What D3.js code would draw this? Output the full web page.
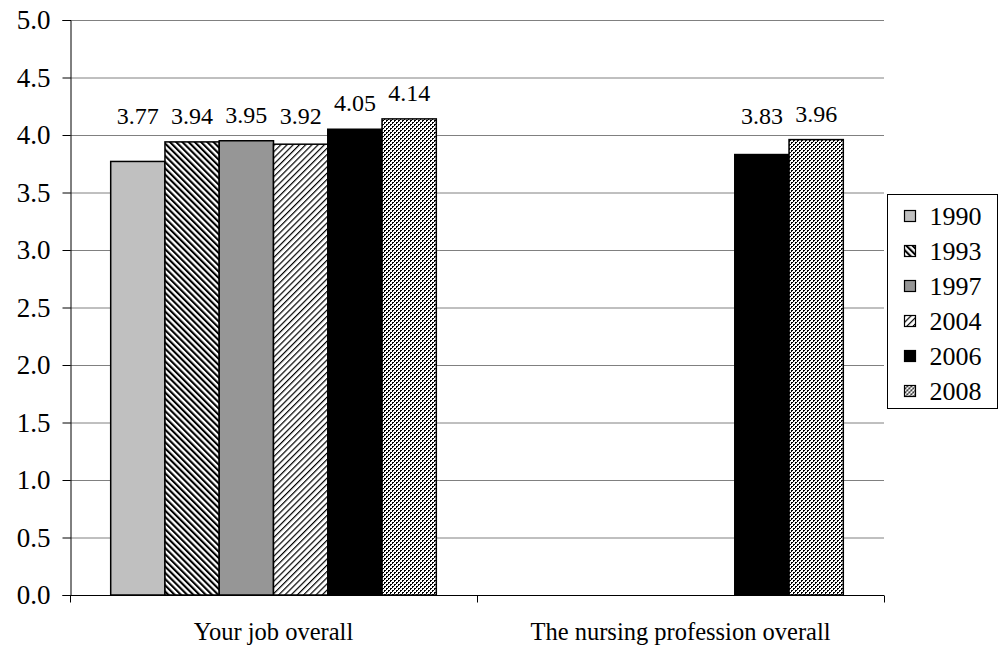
<!DOCTYPE html>
<html>
<head>
<meta charset="utf-8">
<script src="https://cdn.jsdelivr.net/npm/d3@7"></script>
<style>
  html, body { margin: 0; padding: 0; background: #fff; }
  svg { display: block; }
  svg text { font-family: "Liberation Serif", "Times New Roman", Times, serif; fill: #000; }
</style>
</head>
<body>
<svg id="chart" width="999" height="646"></svg>
<script>
// Satisfaction ratings by survey year
const categories = ["Your job overall", "The nursing profession overall"];
const years = ["1990", "1993", "1997", "2004", "2006", "2008"];
const jobOverall = [3.77, 3.94, 3.95, 3.92, 4.05, 4.14];
const professionOverall = [null, null, null, null, 3.83, 3.96];
const yTicks = [0, 0.5, 1, 1.5, 2, 2.5, 3, 3.5, 4, 4.5, 5];

const seriesByCategory = [jobOverall, professionOverall];

const svg = d3.select("#chart");
const margin = { left: 70, right: 884, top: 20, bottom: 595 };

const x0 = d3.scaleBand().domain(categories).range([margin.left, margin.right]).paddingInner(0).paddingOuter(0);
const x1 = d3.scaleBand().domain(years).range([0, x0.bandwidth()]).paddingInner(0).paddingOuter(0.75);
const y = d3.scaleLinear().domain([0, 5]).range([margin.bottom, margin.top]);

// Fill patterns for each year
const defs = svg.append("defs");
function stripes(id, angle, period, width) {
  const p = defs.append("pattern").attr("id", id).attr("patternUnits", "userSpaceOnUse")
    .attr("width", period).attr("height", period).attr("patternTransform", `rotate(${angle})`);
  p.append("rect").attr("width", period).attr("height", period).attr("fill", "#fff");
  p.append("rect").attr("width", width).attr("height", period).attr("fill", "#000");
}
stripes("p1993", -45, 4.4, 2.1);
stripes("p2004", 45, 4.4, 1.2);
const chk = defs.append("pattern").attr("id", "p2008").attr("patternUnits", "userSpaceOnUse")
  .attr("width", 4).attr("height", 4);
chk.append("rect").attr("width", 4).attr("height", 4).attr("fill", "#fff");
chk.append("rect").attr("x", 0).attr("y", 0).attr("width", 2).attr("height", 2).attr("fill", "#000");
chk.append("rect").attr("x", 2).attr("y", 2).attr("width", 2).attr("height", 2).attr("fill", "#000");
chk.append("rect").attr("x", 1).attr("y", 1).attr("width", 1).attr("height", 1).attr("fill", "#fff");
chk.append("rect").attr("x", 3).attr("y", 3).attr("width", 1).attr("height", 1).attr("fill", "#fff");

const fills = d3.scaleOrdinal().domain(years)
  .range(["#c0c0c0", "url(#p1993)", "#969696", "url(#p2004)", "#000000", "url(#p2008)"]);

// Gridlines
svg.append("g").selectAll("line").data(yTicks.filter(d => d > 0)).join("line")
  .attr("x1", margin.left).attr("x2", margin.right)
  .attr("y1", d => y(d) + 0.5).attr("y2", d => y(d) + 0.5)
  .attr("stroke", "#808080").attr("stroke-width", 1);

// Y axis
const yAxis = svg.append("g").attr("transform", `translate(${margin.left + 0.5},0)`)
  .call(d3.axisLeft(y).tickValues(yTicks).tickFormat(d3.format(".1f")).tickSize(8).tickPadding(12));
yAxis.select(".domain").attr("stroke", "#000");
yAxis.selectAll(".tick line").attr("stroke", "#000");
yAxis.selectAll(".tick text").style("font-size", "27px");

// Bars
const groups = svg.append("g").selectAll("g").data(categories).join("g")
  .attr("transform", d => `translate(${x0(d)},0)`);

groups.each(function (cat, ci) {
  const vals = seriesByCategory[ci].map((v, i) => ({ year: years[i], v }))
    .filter(d => d.v !== null);
  const g = d3.select(this);
  g.selectAll("rect").data(vals).join("rect")
    .attr("x", d => x1(d.year)).attr("width", x1.bandwidth())
    .attr("y", d => y(d.v)).attr("height", d => y(0) - y(d.v))
    .attr("fill", d => fills(d.year)).attr("stroke", "#000").attr("stroke-width", 1.5);
  // Value labels, kept clear of the 4.0 gridline band
  g.selectAll("text").data(vals).join("text")
    .attr("x", d => x1(d.year) + x1.bandwidth() / 2)
    .attr("y", d => Math.min(y(d.v) - 18, y(4) - 11))
    .attr("text-anchor", "middle").style("font-size", "24px")
    .text(d => d.v.toFixed(2));
});

// X axis
const xAxis = svg.append("g").attr("transform", `translate(0,${margin.bottom + 0.5})`);
xAxis.append("line").attr("x1", margin.left).attr("x2", margin.right).attr("stroke", "#000");
xAxis.selectAll("line.tk").data([margin.left, x0(categories[1]), margin.right]).join("line")
  .attr("class", "tk").attr("x1", d => d + 0.5).attr("x2", d => d + 0.5)
  .attr("y1", 0).attr("y2", 7).attr("stroke", "#000");
xAxis.selectAll("text").data(categories).join("text")
  .attr("x", d => x0(d) + x0.bandwidth() / 2).attr("y", 44)
  .attr("text-anchor", "middle").style("font-size", "24.5px")
  .text(d => d);

// Legend
const legend = svg.append("g").attr("transform", "translate(887.5,194.5)");
legend.append("rect").attr("width", 110).attr("height", 214)
  .attr("fill", "#fff").attr("stroke", "#000").attr("stroke-width", 1);
const items = legend.selectAll("g").data(years).join("g")
  .attr("transform", (d, i) => `translate(17,${22 + i * 35})`);
items.append("rect").attr("x", 0).attr("y", -6).attr("width", 11).attr("height", 11)
  .attr("fill", d => fills(d)).attr("stroke", "#000").attr("stroke-width", 1.2);
items.append("text").attr("x", 25).attr("y", 8).style("font-size", "26px")
  .text(d => d);
</script>
</body>
</html>
